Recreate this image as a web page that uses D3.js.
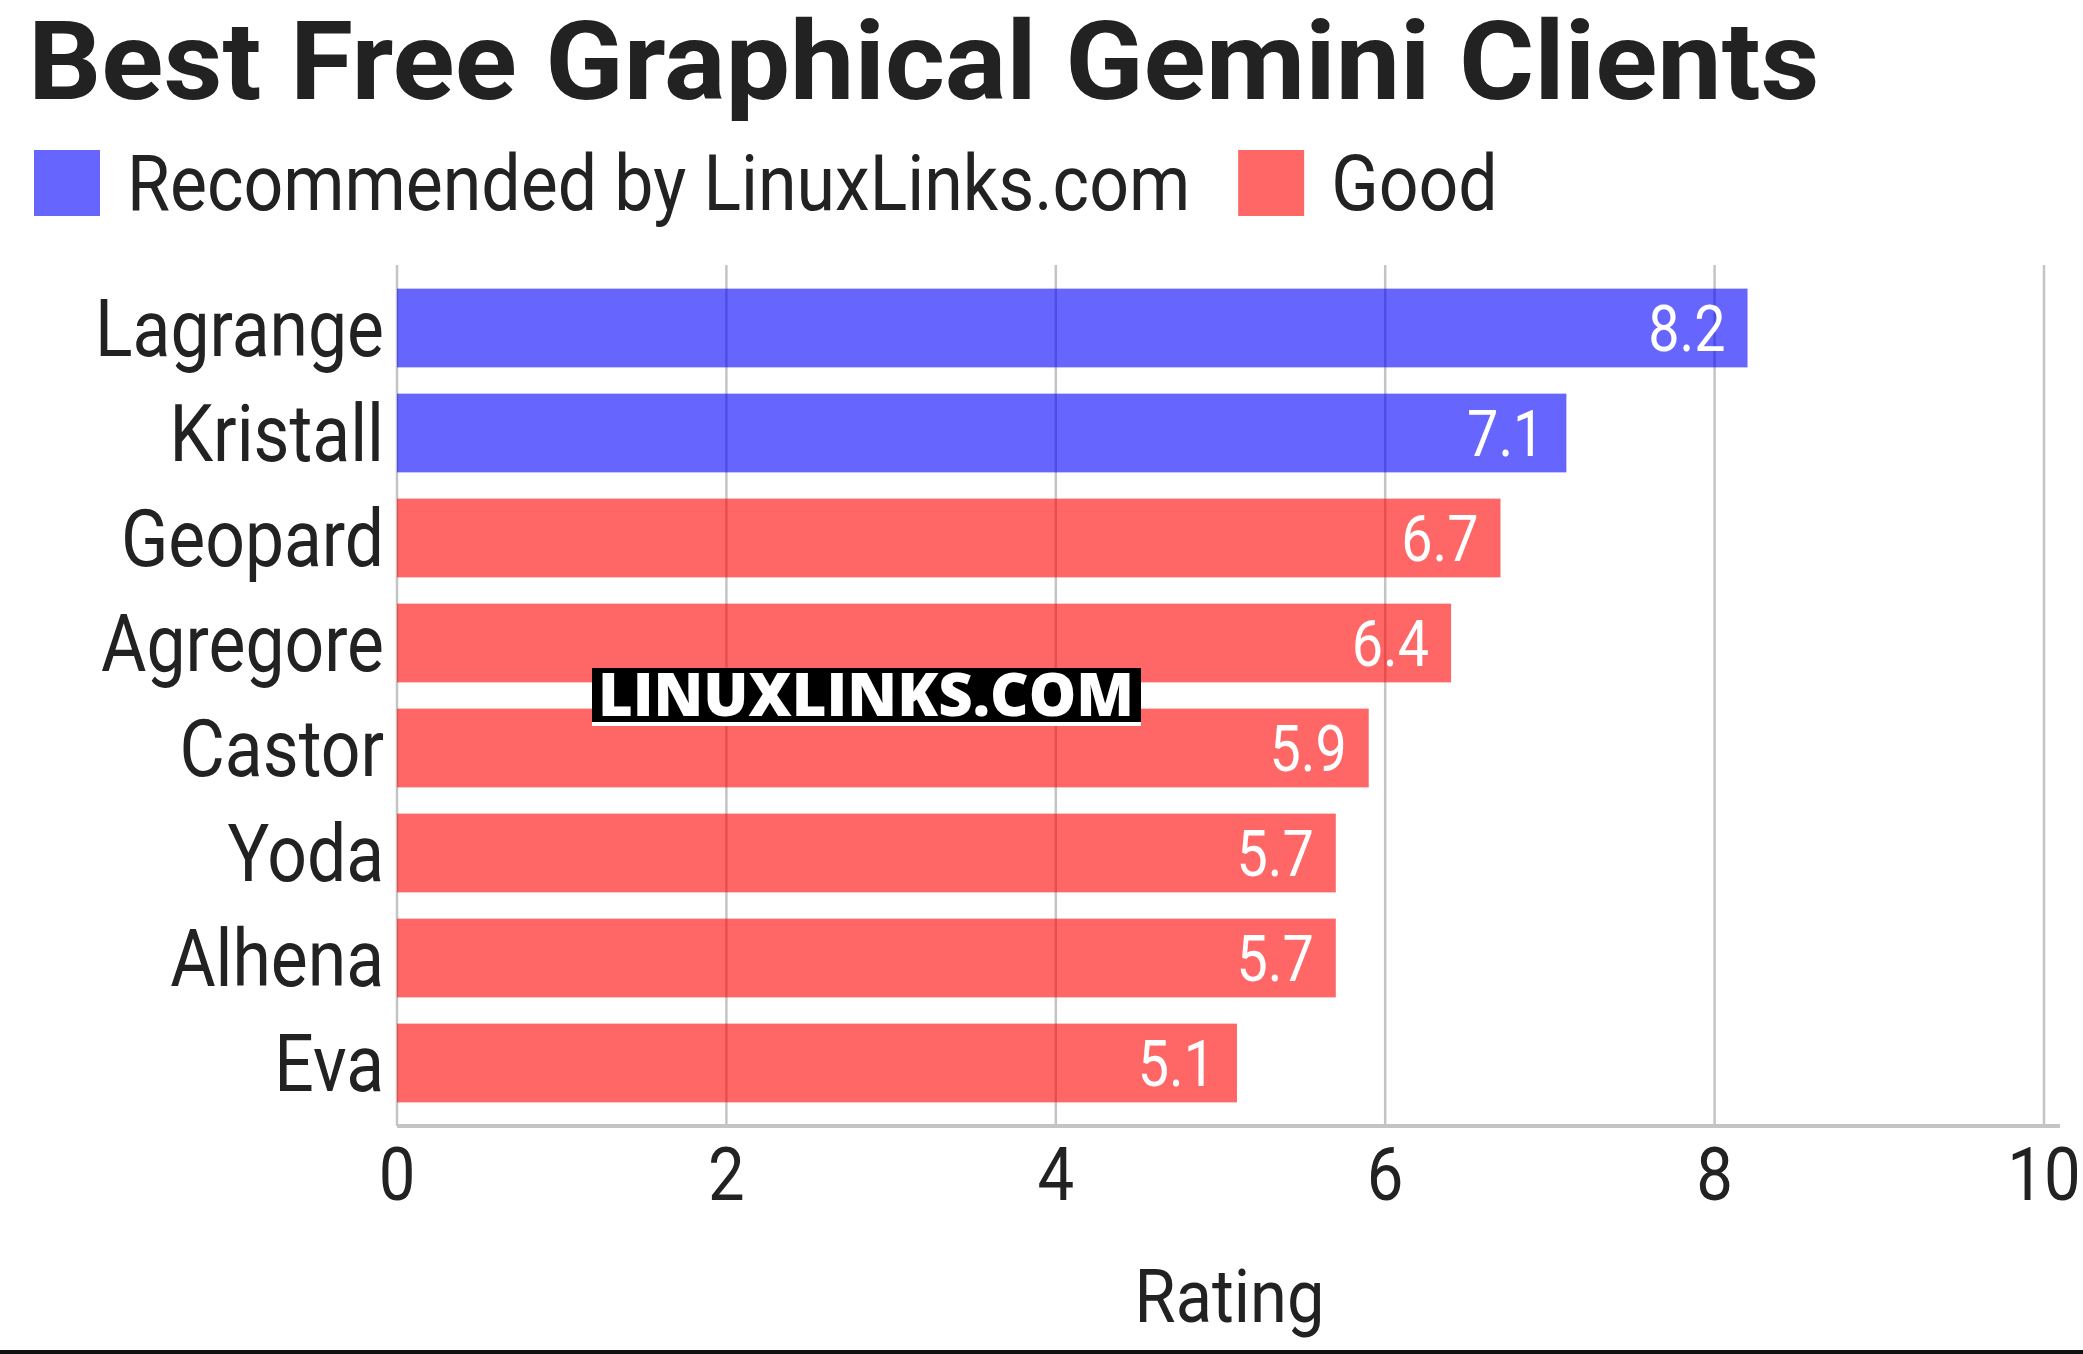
<!DOCTYPE html>
<html>
<head>
<meta charset="utf-8">
<script src="https://cdn.jsdelivr.net/npm/d3@7"></script>
<style>
  html, body { margin: 0; padding: 0; background: #fff; }
  svg { display: block; }
  text { font-family: Roboto, "Noto Sans", sans-serif; fill: #222; }
</style>
</head>
<body>
<svg id="chart" width="2083" height="1354"></svg>
<script>
// data
const clients = ["Lagrange", "Kristall", "Geopard", "Agregore", "Castor", "Yoda", "Alhena", "Eva"];
const ratings = [8.2, 7.1, 6.7, 6.4, 5.9, 5.7, 5.7, 5.1];
const groups = ["rec", "rec", "good", "good", "good", "good", "good", "good"];
const legendKeys = ["rec", "good"];
const legendLabels = ["Recommended by LinuxLinks.com", "Good"];
const xTicks = [0, 2, 4, 6, 8, 10];

const width = 2083, height = 1354;
const margin = {top: 265, right: 39, bottom: 228, left: 397};
const squeeze = 0.87; // fake a condensed face

const color = d3.scaleOrdinal()
    .domain(legendKeys)
    .range(["rgba(0,0,255,0.6)", "rgba(255,0,0,0.6)"]);

const svg = d3.select('#chart');

const x = d3.scaleLinear()
    .domain([0, 10])
    .range([margin.left, width - margin.right]);

const y = d3.scaleBand()
    .domain(clients)
    .range([margin.top, height - margin.bottom])
    .paddingInner(0.25)
    .paddingOuter(0.225);

function label(sel, tx, ty, txt, size, anchor, k) {
    k = k || squeeze;
    return sel.append('text')
        .attr('transform', `translate(${tx},${ty}) scale(${k},1)`)
        .attr('text-anchor', anchor || 'start')
        .style('font-size', size + 'px')
        .text(txt);
}

// title
label(svg, 28, 99, "Best Free Graphical Gemini Clients", 110, 'start', 1.045)
    .style('font-weight', 'bold');

// legend
let lx = 34;
const legend = svg.append('g');
legendKeys.forEach((k, i) => {
    legend.append('rect')
        .attr('x', lx).attr('y', 150)
        .attr('width', 66).attr('height', 66)
        .attr('fill', color(k));
    const t = label(legend, lx + 93, 210, legendLabels[i], 78, 'start', 0.895);
    lx += 93 + t.node().getComputedTextLength() * 0.895 + 48;
});

// grid
svg.append('g')
    .selectAll('line')
    .data(xTicks)
    .enter()
    .append('line')
    .attr('x1', d => x(d)).attr('x2', d => x(d))
    .attr('y1', margin.top).attr('y2', height - margin.bottom)
    .attr('stroke', '#c4c4c4')
    .attr('stroke-width', 2.5);

svg.append('line')
    .attr('x1', margin.left).attr('x2', x(10) + 16)
    .attr('y1', height - margin.bottom).attr('y2', height - margin.bottom)
    .attr('stroke', '#c4c4c4')
    .attr('stroke-width', 4);

// bars
svg.append('g')
    .selectAll('rect')
    .data(clients)
    .enter()
    .append('rect')
    .attr('x', x(0))
    .attr('y', d => y(d))
    .attr('width', (d, i) => x(ratings[i]) - x(0))
    .attr('height', y.bandwidth())
    .attr('fill', (d, i) => color(groups[i]));

// value labels
const vals = svg.append('g');
clients.forEach((c, i) => {
    label(vals, x(ratings[i]) - 22, y(c) + y.bandwidth() / 2 + 23, ratings[i].toFixed(1), 64, 'end')
        .style('fill', '#fff');
});

// category labels
const cats = svg.append('g');
clients.forEach(c => {
    label(cats, margin.left - 13, y(c) + y.bandwidth() / 2 + 28, c, 80, 'end');
});

// x tick labels
const ticks = svg.append('g');
xTicks.forEach(t => {
    label(ticks, x(t), 1200, t, 75, 'middle');
});

// axis title
label(svg, (x(0) + x(10)) / 2 + 9, 1322, "Rating", 75, 'middle', 0.89);

// watermark
svg.append('rect')
    .attr('x', 592).attr('y', 668)
    .attr('width', 549).attr('height', 58)
    .attr('fill', '#fff');
svg.append('rect')
    .attr('x', 592).attr('y', 668)
    .attr('width', 549).attr('height', 54)
    .attr('fill', '#000');
svg.append('text')
    .attr('x', 866).attr('y', 716)
    .attr('text-anchor', 'middle')
    .style('font-family', '"Open Sans", sans-serif')
    .style('font-weight', 800)
    .style('font-size', '60px')
    .style('fill', '#fff')
    .attr('textLength', 536)
    .attr('lengthAdjust', 'spacingAndGlyphs')
    .text("LINUXLINKS.COM");

// bottom border
svg.append('rect')
    .attr('x', 0).attr('y', height - 4)
    .attr('width', width).attr('height', 4)
    .attr('fill', '#111');
</script>
</body>
</html>
